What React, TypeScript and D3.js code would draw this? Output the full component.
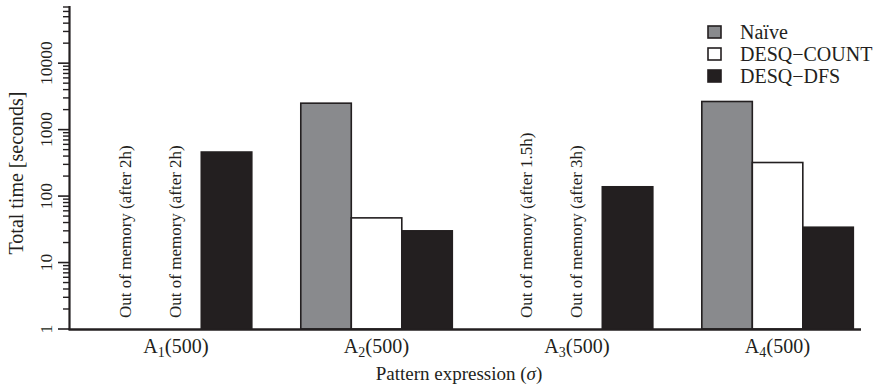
import React from 'react'
import * as d3 from 'd3'

const groups = ['1', '2', '3', '4']
const seriesNames = ['Naïve', 'DESQ\u2212COUNT', 'DESQ\u2212DFS']
const naive = [null, 2500, null, 2650]
const desqCount = [null, 47, null, 320]
const desqDfs = [460, 30, 138, 34]
const oomNotes = [
  ['Out of memory (after 2h)', 'Out of memory (after 2h)', null],
  [null, null, null],
  ['Out of memory (after 1.5h)', 'Out of memory (after 3h)', null],
  [null, null, null],
]
const majorTicks = [1, 10, 100, 1000, 10000]

const W = 877
const H = 391
const font = '"Liberation Serif", "DejaVu Serif", serif'
const ink = '#231f20'
const fills = ['#898a8d', '#ffffff', ink]

export default function App() {
  const values = [naive, desqCount, desqDfs]

  const y = d3.scaleLog().domain([1, 70000]).range([329, 7])
  const x = d3.scaleBand().domain(groups).range([69, 884.6]).paddingInner(0.2444).paddingOuter(0.156)
  const xs = d3.scaleBand().domain(seriesNames).range([0, x.bandwidth()])

  const minorTicks: number[] = []
  for (let e = 0; e <= 4; e++) {
    for (let m = 2; m <= 9; m++) {
      const v = m * Math.pow(10, e)
      if (v <= 70000) minorTicks.push(v)
    }
  }

  return (
    <svg width={W} height={H} style={{position: 'absolute', left: 0, top: 0}} fontFamily={font}>
      {/* bars */}
      {groups.map((g, gi) => (
        <g key={g} transform={`translate(${x(g)},0)`}>
          {seriesNames.map((s, si) => {
            const v = values[si][gi]
            if (v == null) return null
            return (
              <rect key={s} x={xs(s)} y={y(v)} width={xs.bandwidth()} height={y(1) - y(v)}
                fill={fills[si]} stroke={ink} strokeWidth={1.6} />
            )
          })}
          {seriesNames.map((s, si) => {
            const note = oomNotes[gi][si]
            if (!note) return null
            const cx = (xs(s) as number) + xs.bandwidth() / 2
            return (
              <text key={'n' + s} transform={`translate(${cx + 5},318) rotate(-90)`}
                fontSize={17} fill={ink}>{note}</text>
            )
          })}
        </g>
      ))}

      {/* y axis */}
      <line x1={69.5} x2={69.5} y1={6} y2={330} stroke={ink} strokeWidth={2.2} />
      {minorTicks.map(t => (
        <line key={'m' + t} x1={63} x2={69} y1={y(t)} y2={y(t)} stroke={ink} strokeWidth={1.4} />
      ))}
      {majorTicks.map(t => (
        <g key={'M' + t}>
          <line x1={58} x2={69} y1={y(t)} y2={y(t)} stroke={ink} strokeWidth={1.6} />
          <text transform={`translate(${52},${y(t)}) rotate(-90)`} textAnchor="middle"
            fontSize={17.5} fill={ink}>{t}</text>
        </g>
      ))}
      <text transform={`translate(23,173) rotate(-90)`} textAnchor="middle" fontSize={20} fill={ink}>
        Total time [seconds]
      </text>

      {/* x axis */}
      <line x1={68.5} x2={861} y1={329.5} y2={329.5} stroke={ink} strokeWidth={2.4} />
      {groups.map(g => (
        <text key={'x' + g} x={(x(g) as number) + x.bandwidth() / 2} y={353} textAnchor="middle"
          fontSize={20} fill={ink}>
          A<tspan fontSize={14} dy={4}>{g}</tspan><tspan dy={-4} fontSize={21}>(</tspan>500<tspan fontSize={21}>)</tspan>
        </text>
      ))}
      <text x={459} y={380} textAnchor="middle" fontSize={19} fill={ink}>
        Pattern expression (<tspan fontStyle="italic">σ</tspan>)
      </text>

      {/* legend */}
      {seriesNames.map((s, si) => (
        <g key={'l' + s} transform={`translate(708,${26 + si * 22})`}>
          <rect x={0} y={0} width={13} height={12} fill={fills[si]} stroke={ink} strokeWidth={1.6} />
          <text x={32} y={12.5} fontSize={20} fill={ink}>{s}</text>
        </g>
      ))}
    </svg>
  )
}
